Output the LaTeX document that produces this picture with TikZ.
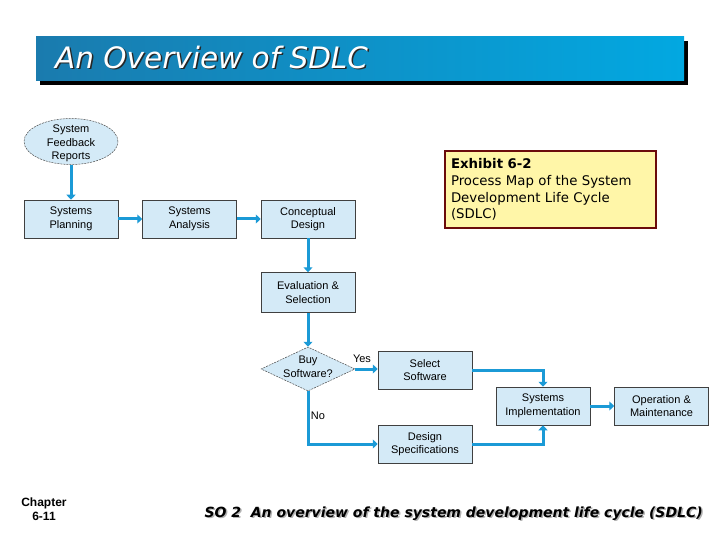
\documentclass[tikz,border=0pt]{standalone}
\usepackage{fontspec}
\setmainfont{Liberation Sans}
\newfontfamily\comicfont{DejaVu Sans}
\usetikzlibrary{arrows.meta,positioning,shapes.geometric,shadows}
\definecolor{BarDark}{HTML}{1A7BAE}
\definecolor{BarLight}{HTML}{02A8E1}
\definecolor{FlowBlue}{HTML}{1B9AD6}
\definecolor{BoxFill}{HTML}{D4EAF7}
\definecolor{NoteFill}{HTML}{FFF6A8}
\definecolor{NoteEdge}{HTML}{6B0B0B}
\newcommand{\shadowtext}[2]{\makebox[0pt][l]{\hspace{1.5pt}\raisebox{-1.5pt}{\color{#1}#2}}#2}

\begin{document}
\begin{tikzpicture}[
  x=1pt,y=-1pt,
  node distance=24pt and 24pt,
  proc/.style={draw=black!75,line width=0.5pt,fill=BoxFill,minimum width=94pt,minimum height=38pt,inner sep=1pt,align=center,font=\fontsize{11}{13.5}\selectfont},
  report/.style={ellipse,draw=black!70,dash pattern=on 2pt off 1pt,line width=0.5pt,fill=BoxFill,minimum width=94pt,minimum height=46pt,inner sep=0pt},
  choice/.style={diamond,draw=black!70,dash pattern=on 2pt off 1pt,line width=0.5pt,fill=BoxFill,minimum width=94pt,minimum height=44pt,inner sep=0pt},
  lbl/.style={inner sep=0pt,align=center,font=\fontsize{11}{13.5}\selectfont},
  flow/.style={-{Triangle[length=5pt,width=9pt]},line width=3pt,draw=FlowBlue},
  bar/.style={minimum width=648pt,minimum height=44pt,inner sep=0pt,left color=BarDark,right color=BarLight,drop shadow={shadow xshift=4pt,shadow yshift=-4pt,fill=black,opacity=1}},
  note/.style={draw=NoteEdge,line width=2pt,fill=NoteFill,minimum width=211pt,minimum height=77pt,text width=199pt,inner sep=5pt,align=left,font=\comicfont\fontsize{13.3}{16.7}\selectfont}
]
\useasboundingbox (0,0) rectangle (720,540);
% title
\node[bar] (bar) at (360,59) {};
\node[anchor=west,inner sep=0pt,text=white,font=\comicfont\itshape\fontsize{29.5}{32}\selectfont] (title) at (55,58) {\shadowtext{black!85}{An Overview of SDLC}};
% process map
\node[proc] (plan) at (71,219) {Systems\\Planning};
\node[proc,right=of plan] (anal) {Systems\\Analysis};
\node[proc,right=of anal] (conc) {Conceptual\\Design};
\node[report,above=35pt of plan] (fb) {};
\node[lbl] (fbtxt) at ([yshift=-2pt]fb.center) {System\\Feedback\\Reports};
\node[proc,minimum height=40pt,below=34pt of conc] (eval) {Evaluation \&\\Selection};
\node[choice,below=34pt of eval] (buy) {};
\node[lbl] (buytxt) at ([yshift=2pt]buy.center) {Buy\\Software?};
\node[proc] (sel) at (425,370) {Select\\Software};
\node[proc] (des) at (425,444) {Design\\Specifications};
\node[proc] (impl) at (543,406) {Systems\\Implementation};
\node[proc,right=of impl] (ops) {Operation \&\\Maintenance};
\node[lbl] (yes) at (362,359) {Yes};
\node[lbl] (no) at (318,416) {No};
\draw[flow] (fb) -- (plan);
\draw[flow] (plan) -- (anal);
\draw[flow] (anal) -- (conc);
\draw[flow] (conc) -- (eval);
\draw[flow] (eval) -- (buy);
\draw[flow] (buy.east) -- (sel.west |- buy.east);
\draw[flow] (buy.south) |- (des.west);
\draw[flow] (sel.east) -| (impl.north);
\draw[flow] (des.east) -| (impl.south);
\draw[flow] (impl) -- (ops);
% exhibit note
\node[note,anchor=north west] (exh) at (444,150) {\textbf{Exhibit 6-2}\\Process Map of the System\\Development Life Cycle\\(SDLC)};
% footer
\node[lbl,font=\bfseries\fontsize{12}{14}\selectfont] (chap) at (44,509) {Chapter\\6-11};
\node[anchor=east,inner sep=0pt,font=\comicfont\bfseries\itshape\fontsize{14}{16}\selectfont] (so) at (703,514) {\shadowtext{black!30}{SO 2\ \ An overview of the system development life cycle (SDLC)}};
\end{tikzpicture}
\end{document}
